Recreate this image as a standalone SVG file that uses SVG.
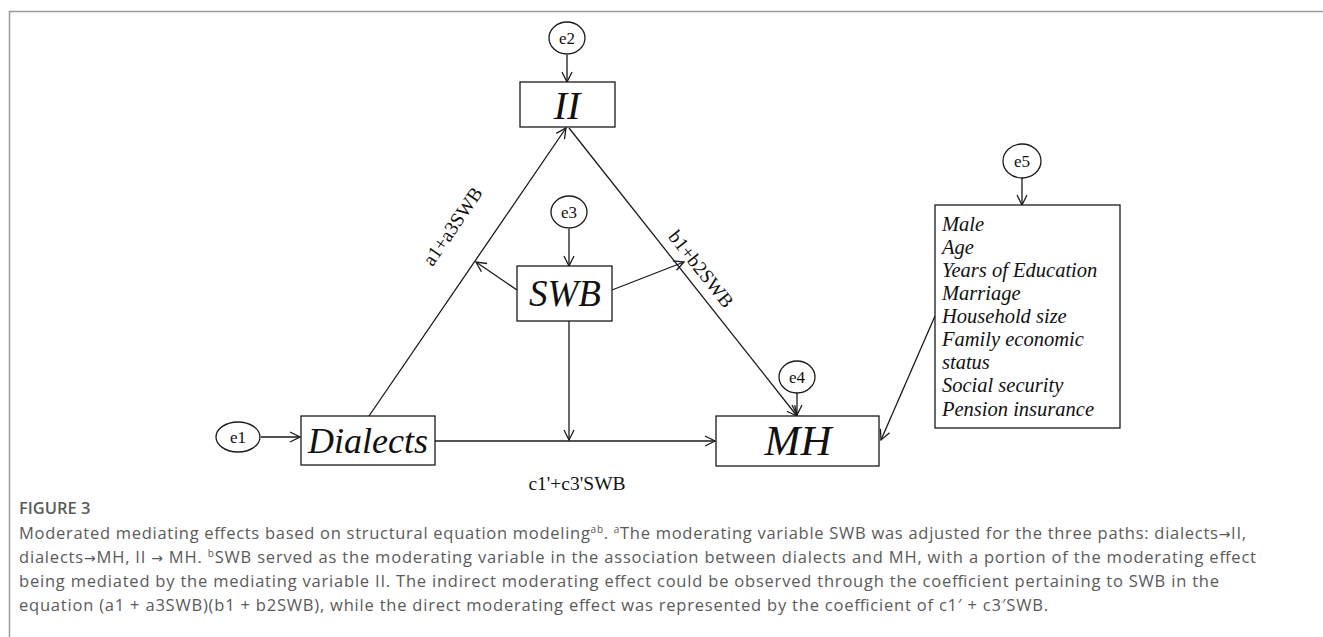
<svg xmlns="http://www.w3.org/2000/svg" width="1323" height="637" viewBox="0 0 1323 637">
<style>
.box{fill:#fff;stroke:#1a1a1a;stroke-width:1.3}
.ell{fill:#fff;stroke:#1a1a1a;stroke-width:1.3}
.ln{fill:none;stroke:#1a1a1a;stroke-width:1.3;marker-end:url(#ah)}
.lab{font-family:"Liberation Serif",serif;font-style:italic;fill:#111;text-anchor:middle}
.el{font-family:"Liberation Serif",serif;font-size:17px;fill:#111;text-anchor:middle}
.pl{font-family:"Liberation Serif",serif;font-size:19.5px;fill:#111;text-anchor:middle}
.cv{font-family:"Liberation Serif",serif;font-style:italic;font-size:20.5px;fill:#111}
.cap{font-family:"Open Sans","Liberation Sans",sans-serif;font-size:16.5px;fill:#5a5a5a}
.arr{font-family:"DejaVu Sans",sans-serif;font-size:14px}
</style>
<defs>
<marker id="ah" viewBox="0 0 12 12" refX="11" refY="6" markerWidth="12" markerHeight="12" markerUnits="userSpaceOnUse" orient="auto">
<path d="M1,1 L11,6 L1,11" fill="none" stroke="#1a1a1a" stroke-width="1.3"/>
</marker>
</defs>
<rect width="1323" height="637" fill="#fff"/>
<path d="M9.5,637 V11.5 H1323" fill="none" stroke="#9a9a9a" stroke-width="1.5"/>

<g id="connectors">
<line class="ln" x1="567" y1="55" x2="567" y2="82"/>
<line class="ln" x1="369" y1="416" x2="566" y2="128"/>
<line class="ln" x1="569" y1="128" x2="797" y2="416"/>
<line class="ln" x1="261" y1="437" x2="300" y2="437"/>
<line class="ln" x1="435" y1="441" x2="715" y2="441"/>
<line class="ln" x1="569" y1="229" x2="569" y2="266"/>
<line class="ln" x1="569" y1="321" x2="569" y2="440"/>
<line class="ln" x1="517" y1="290" x2="476" y2="262"/>
<line class="ln" x1="612" y1="290" x2="684" y2="262"/>
<line class="ln" x1="797" y1="393" x2="797" y2="415"/>
<line class="ln" x1="1022" y1="178" x2="1022" y2="205"/>
<line class="ln" x1="935" y1="316" x2="881" y2="440"/>
<text class="pl" transform="translate(458,230) rotate(-55.6)">a1+a3SWB</text>
<text class="pl" transform="translate(696,273) rotate(51.8)">b1+b2SWB</text>
<text class="pl" x="577" y="490" font-size="17">c1'+c3'SWB</text>
</g>

<g id="e2"><ellipse class="ell" cx="567" cy="38" rx="18" ry="16"/><text class="el" x="567" y="44">e2</text></g>
<g id="II"><rect class="box" x="520" y="82" width="95" height="45"/><text class="lab" x="567" y="119" font-size="40">II</text></g>
<g id="e3"><ellipse class="ell" cx="569" cy="212" rx="18" ry="16"/><text class="el" x="569" y="218">e3</text></g>
<g id="SWB"><rect class="box" x="517" y="266" width="95" height="55"/><text class="lab" x="565" y="306" font-size="37">SWB</text></g>
<g id="e1"><ellipse class="ell" cx="238" cy="437" rx="22" ry="15"/><text class="el" x="238" y="443">e1</text></g>
<g id="Dialects"><rect class="box" x="301" y="416" width="134" height="49"/><text class="lab" x="368" y="453" font-size="36">Dialects</text></g>
<g id="e4"><ellipse class="ell" cx="797" cy="377" rx="18" ry="16"/><text class="el" x="797" y="383">e4</text></g>
<g id="MH"><rect class="box" x="716" y="416" width="163" height="50"/><text class="lab" x="798" y="455" font-size="43">MH</text></g>
<g id="e5"><ellipse class="ell" cx="1022" cy="161" rx="19" ry="17"/><text class="el" x="1022" y="167">e5</text></g>
<g id="controls">
<rect class="box" x="935" y="205" width="185" height="223"/>
<text class="cv" x="942" y="231">Male</text>
<text class="cv" x="942" y="254">Age</text>
<text class="cv" x="942" y="277">Years of Education</text>
<text class="cv" x="942" y="300">Marriage</text>
<text class="cv" x="942" y="323">Household size</text>
<text class="cv" x="942" y="346">Family economic</text>
<text class="cv" x="942" y="369">status</text>
<text class="cv" x="942" y="392">Social security</text>
<text class="cv" x="942" y="416">Pension insurance</text>
</g>

<g id="caption">
<text class="cap" x="19" y="514" font-size="13" font-weight="600" fill="#555">FIGURE 3</text>
<text class="cap" x="19" y="539" textLength="1227" lengthAdjust="spacing">Moderated mediating effects based on structural equation modeling<tspan font-size="10" dy="-6">ab</tspan><tspan dy="6">. </tspan><tspan font-size="10" dy="-6">a</tspan><tspan dy="6">The moderating variable SWB was adjusted for the three paths: dialects</tspan><tspan class="arr">→</tspan>II,</text>
<text class="cap" x="19" y="563" textLength="1237" lengthAdjust="spacing">dialects<tspan class="arr">→</tspan>MH, II <tspan class="arr">→</tspan> MH. <tspan font-size="10" dy="-6">b</tspan><tspan dy="6">SWB served as the moderating variable in the association between dialects and MH, with a portion of the moderating effect</tspan></text>
<text class="cap" x="19" y="587" textLength="1200" lengthAdjust="spacing">being mediated by the mediating variable II. The indirect moderating effect could be observed through the coefficient pertaining to SWB in the</text>
<text class="cap" x="19" y="611" textLength="1029" lengthAdjust="spacing">equation (a1 + a3SWB)(b1 + b2SWB), while the direct moderating effect was represented by the coefficient of c1′ + c3′SWB.</text>
</g>
</svg>
